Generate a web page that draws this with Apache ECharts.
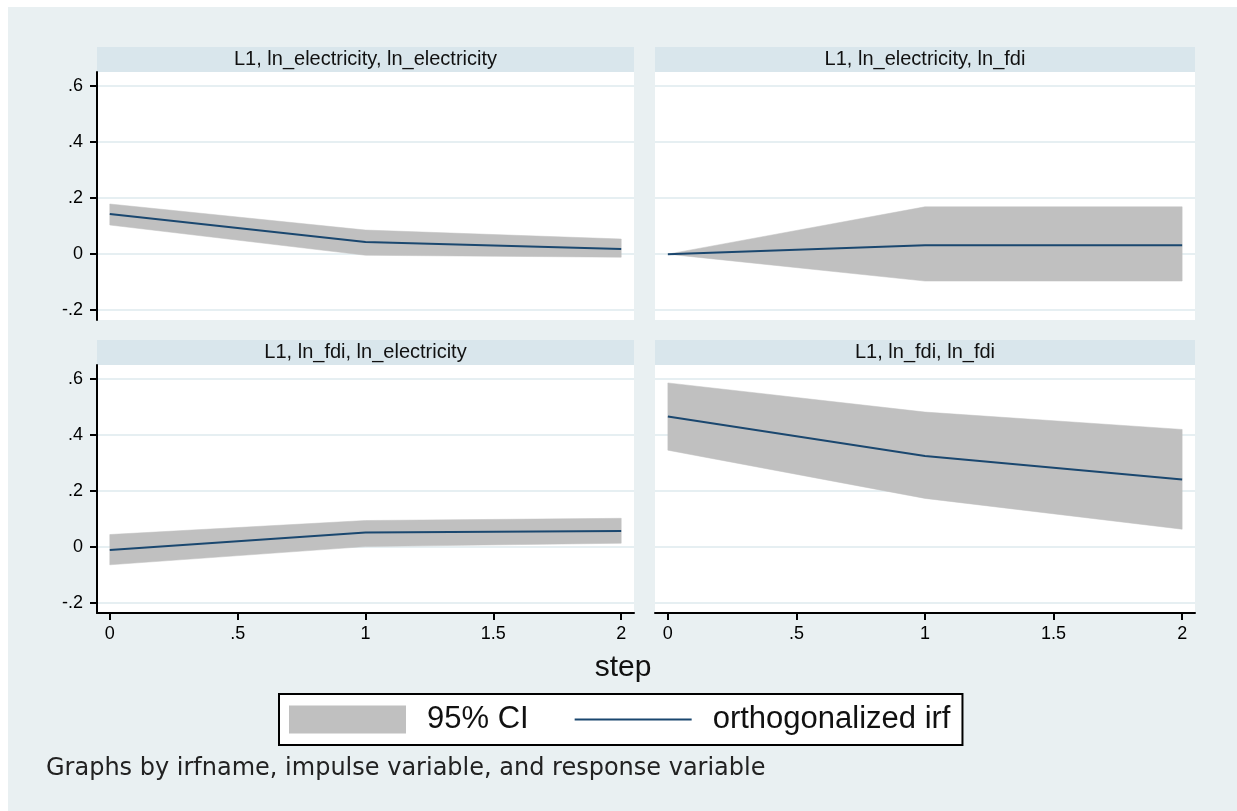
<!DOCTYPE html>
<html>
<head>
<meta charset="utf-8">
<title>IRF</title>
<script src="https://cdn.jsdelivr.net/npm/echarts@6/dist/echarts.min.js"></script>
<style>
  html, body { margin: 0; padding: 0; background: #fff; }
  #chart { width: 1237px; height: 811px; }
</style>
</head>
<body>
<div id="chart"></div>
<script>
// step axis and tick values
const steps = [0, 1, 2];
const xTicks = [0, 0.5, 1, 1.5, 2];
const yTicks = [-0.2, 0, 0.2, 0.4, 0.6];

const panelTitles = [
  "L1, ln_electricity, ln_electricity",
  "L1, ln_electricity, ln_fdi",
  "L1, ln_fdi, ln_electricity",
  "L1, ln_fdi, ln_fdi"
];

// orthogonalized irf + 95% CI bounds, read at steps 0,1,2
const irfElecElec = [0.143, 0.043, 0.018];
const loElecElec = [0.104, -0.004, -0.011];
const hiElecElec = [0.179, 0.086, 0.054];

const irfElecFdi = [0, 0.032, 0.032];
const loElecFdi = [0, -0.096, -0.096];
const hiElecFdi = [0, 0.169, 0.169];

const irfFdiElec = [-0.010, 0.052, 0.058];
const loFdiElec = [-0.063, 0.002, 0.014];
const hiFdiElec = [0.045, 0.095, 0.103];

const irfFdiFdi = [0.466, 0.325, 0.241];
const loFdiFdi = [0.346, 0.174, 0.064];
const hiFdiFdi = [0.586, 0.482, 0.420];

const irfs = [irfElecElec, irfElecFdi, irfFdiElec, irfFdiFdi];
const lows = [loElecElec, loElecFdi, loFdiElec, loFdiFdi];
const highs = [hiElecElec, hiElecFdi, hiFdiElec, hiFdiFdi];

// panel layout (px)
const boxes = [
  { left: 97, top: 72, width: 537, height: 248, col: 0, row: 0 },
  { left: 655, top: 72, width: 540, height: 248, col: 1, row: 0 },
  { left: 97, top: 365, width: 537, height: 248, col: 0, row: 1 },
  { left: 655, top: 365, width: 540, height: 248, col: 1, row: 1 }
];

const FONT = "'Liberation Sans', Arial, sans-serif";
const BAND = "#c0c0c0";
const LINE = "#1a476f";

const fmt = (v) => (v === 0 ? "0" : String(v).replace("0.", "."));

const chart = echarts.init(document.getElementById("chart"));

const grids = [];
const xAxes = [];
const yAxes = [];
const series = [];
const graphics = [
  { type: "rect", shape: { x: 8, y: 7, width: 1229, height: 804 }, style: { fill: "#e9f0f2" }, z: -10 }
];

// band polygon: upper bound left->right, lower bound right->left
function bandRenderer(lo, hi) {
  return function (params, api) {
    if (params.dataIndex !== 0) return null;
    const pts = [];
    steps.forEach((s, j) => pts.push(api.coord([s, hi[j]])));
    for (let j = steps.length - 1; j >= 0; j--) pts.push(api.coord([steps[j], lo[j]]));
    return {
      type: "polygon",
      shape: { points: pts },
      style: { fill: BAND, stroke: BAND, lineWidth: 0.5 }
    };
  };
}

boxes.forEach((b, i) => {
  grids.push({
    left: b.left, top: b.top, width: b.width, height: b.height,
    show: true, backgroundColor: "#fff", borderWidth: 0,
    outerBoundsMode: "none"
  });

  const bottom = b.row === 1;
  const leftCol = b.col === 0;

  xAxes.push({
    gridIndex: i, type: "value", min: -0.05, max: 2.05,
    axisLine: { show: bottom, onZero: false, lineStyle: { color: "#000", width: 2 } },
    axisTick: { show: bottom, length: 7, customValues: xTicks, lineStyle: { color: "#000", width: 2 } },
    axisLabel: {
      show: bottom, customValues: xTicks, formatter: fmt, margin: 12,
      color: "#000", fontSize: 18, fontFamily: FONT
    },
    splitLine: { show: false }
  });

  yAxes.push({
    gridIndex: i, type: "value", min: -0.235, max: 0.65,
    axisLine: { show: leftCol, onZero: false, lineStyle: { color: "#000", width: 2 } },
    axisTick: { show: leftCol, length: 7, customValues: yTicks, lineStyle: { color: "#000", width: 2 } },
    axisLabel: {
      show: leftCol, customValues: yTicks, formatter: fmt, margin: 14,
      color: "#000", fontSize: 18, fontFamily: FONT
    },
    splitLine: { show: true, lineStyle: { color: "#e6eff2", width: 2 } }
  });

  series.push({
    name: "95% CI", type: "custom", xAxisIndex: i, yAxisIndex: i,
    silent: true, z: 2,
    itemStyle: { color: BAND },
    encode: { x: 0, y: [1, 2] },
    renderItem: bandRenderer(lows[i], highs[i]),
    data: steps.map((s, j) => [s, lows[i][j], highs[i][j]])
  });
  series.push({
    name: "orthogonalized irf", type: "line", xAxisIndex: i, yAxisIndex: i,
    symbol: "none", showSymbol: false, silent: true, z: 3,
    itemStyle: { color: LINE },
    lineStyle: { color: LINE, width: 2 },
    data: steps.map((s, j) => [s, irfs[i][j]])
  });

  // panel header strip
  graphics.push({
    type: "rect", shape: { x: b.left, y: b.top - 25, width: b.width, height: 25 },
    style: { fill: "#d9e6ec" }, z: -5
  });
  graphics.push({
    type: "text", x: b.left + b.width / 2, y: b.top - 12.5,
    style: {
      text: panelTitles[i], fill: "#111", font: "20px " + FONT,
      align: "center", verticalAlign: "middle"
    }
  });
});

graphics.push({
  type: "text", x: 623, y: 668,
  style: { text: "step", fill: "#111", font: "30px " + FONT, align: "center", verticalAlign: "middle" }
});
graphics.push({
  type: "text", x: 46, y: 769,
  style: { text: "Graphs by irfname, impulse variable, and response variable", fill: "#222", font: "24px 'DejaVu Sans', sans-serif", align: "left", verticalAlign: "middle" }
});

chart.setOption({
  backgroundColor: "#fff",
  animation: false,
  grid: grids,
  xAxis: xAxes,
  yAxis: yAxes,
  series: series,
  legend: {
    data: [
      { name: "95% CI", icon: "rect", itemStyle: { color: BAND } },
      { name: "orthogonalized irf", icon: "path://M0,0H117V2H0Z", itemStyle: { color: LINE } }
    ],
    left: 279, top: 694,
    orient: "horizontal",
    padding: [10, 12, 10, 10],
    itemGap: 46,
    itemWidth: 117, itemHeight: 28,
    backgroundColor: "#fff",
    borderColor: "#000", borderWidth: 2, borderRadius: 0,
    selectedMode: false,
    textStyle: { fontSize: 31, fontFamily: FONT, color: "#111", padding: [0, 0, 0, 16] }
  },
  graphic: graphics
});
</script>
</body>
</html>
